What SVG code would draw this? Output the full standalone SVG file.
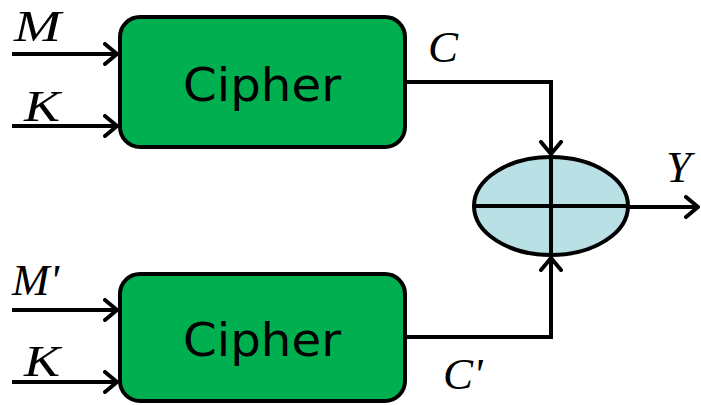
<svg xmlns="http://www.w3.org/2000/svg" width="701" height="405" viewBox="0 0 701 405">
  <style>
    .box { fill: #00B050; stroke: #000; stroke-width: 4; }
    .wire { fill: none; stroke: #000; stroke-width: 4; stroke-linejoin: miter; }
    .lbl { font-family: "Liberation Serif", "DejaVu Serif", serif; font-style: italic; font-size: 45px; fill: #000; }
    .name { font-family: "Comic Sans MS", "DejaVu Sans", "Open Sans", sans-serif; font-size: 47px; fill: #000; }
  </style>
  <defs>
    <marker id="chev" viewBox="0 0 16 24" refX="15" refY="12" markerWidth="16" markerHeight="24" markerUnits="userSpaceOnUse" orient="auto">
      <path d="M2,2 L14,12 L2,22" fill="none" stroke="#000" stroke-width="4" stroke-linecap="round" stroke-linejoin="round"/>
    </marker>
  </defs>

  <g id="cipher-top">
    <rect class="box" x="120" y="17" width="285" height="130" rx="20" ry="20"/>
    <text class="name" x="262" y="101" text-anchor="middle" textLength="158" lengthAdjust="spacingAndGlyphs">Cipher</text>
  </g>

  <g id="cipher-bottom">
    <rect class="box" x="120" y="274" width="285" height="127" rx="20" ry="20"/>
    <text class="name" x="262" y="356" text-anchor="middle" textLength="158" lengthAdjust="spacingAndGlyphs">Cipher</text>
  </g>

  <g id="xor">
    <ellipse cx="551" cy="206" rx="77" ry="49" fill="#B9E0E4" stroke="#000" stroke-width="4"/>
    <line x1="474" y1="206" x2="628" y2="206" stroke="#000" stroke-width="4"/>
    <line x1="551" y1="157" x2="551" y2="255" stroke="#000" stroke-width="4"/>
  </g>

  <g id="connectors">
    <line class="wire" x1="12" y1="54" x2="118" y2="54" marker-end="url(#chev)"/>
    <line class="wire" x1="12" y1="126" x2="118" y2="126" marker-end="url(#chev)"/>
    <line class="wire" x1="12" y1="310" x2="118" y2="310" marker-end="url(#chev)"/>
    <line class="wire" x1="12" y1="382" x2="118" y2="382" marker-end="url(#chev)"/>
    <polyline class="wire" points="405,82 551,82 551,155" marker-end="url(#chev)"/>
    <polyline class="wire" points="405,337 551,337 551,257" marker-end="url(#chev)"/>
    <line class="wire" x1="628" y1="207" x2="699" y2="207" marker-end="url(#chev)"/>
  </g>

  <g id="labels">
    <text class="lbl" x="14" y="41" textLength="47" lengthAdjust="spacingAndGlyphs">M</text>
    <text class="lbl" x="24" y="121" textLength="36" lengthAdjust="spacingAndGlyphs">K</text>
    <text class="lbl" x="12" y="295">M'</text>
    <text class="lbl" x="24" y="376" textLength="36" lengthAdjust="spacingAndGlyphs">K</text>
    <text class="lbl" x="428" y="62">C</text>
    <text class="lbl" x="443" y="389">C'</text>
    <text class="lbl" x="666" y="182">Y</text>
  </g>
</svg>
